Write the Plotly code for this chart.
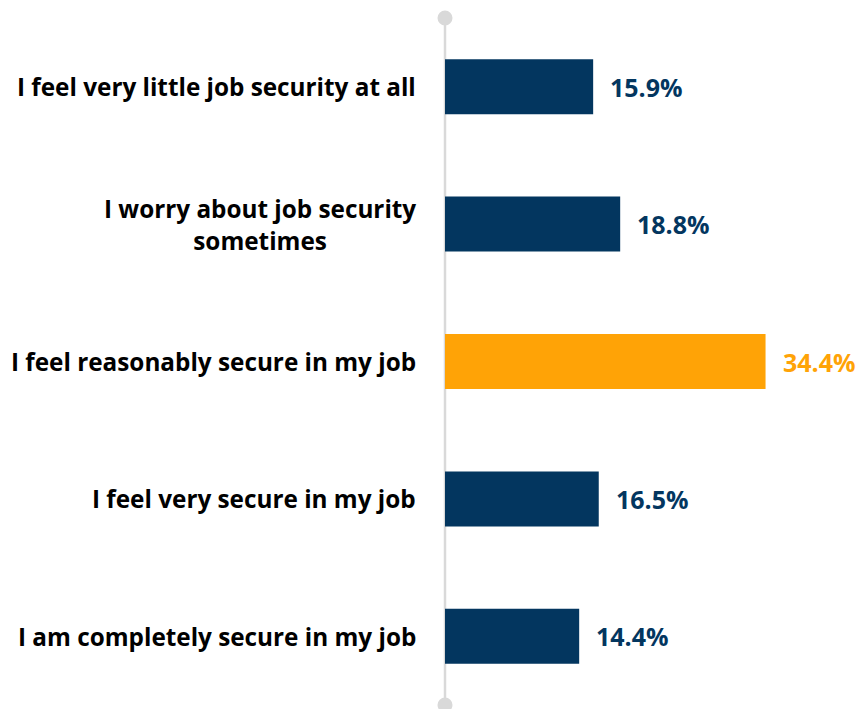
import plotly.graph_objects as go

categories = [
    "I feel very little job security at all",
    "I worry about job security<br>sometimes",
    "I feel reasonably secure in my job",
    "I feel very secure in my job",
    "I am completely secure in my job",
]
values = [15.9, 18.8, 34.4, 16.5, 14.4]
value_labels = ["15.9%", "18.8%", "34.4%", "16.5%", "14.4%"]
highlight = [False, False, True, False, False]

NAVY = "#03365F"
ORANGE = "#FFA306"
GREY = "#D9D9D9"
FONT = "Open Sans"

colors = [ORANGE if h else NAVY for h in highlight]

fig = go.Figure()
fig.add_trace(go.Bar(
    x=values,
    y=list(range(len(categories))),
    orientation="h",
    marker=dict(color=colors, line=dict(width=0)),
    width=0.4,
    hoverinfo="skip",
))

annotations = []
for i, (cat, v, lab, c) in enumerate(zip(categories, values, value_labels, colors)):
    annotations.append(dict(
        x=0, y=i, xref="x", yref="y", text=cat, showarrow=False,
        xanchor="right", yanchor="middle", align="center", xshift=-27,
        font=dict(family=FONT, size=24.3, color="#000000", weight="bold"),
    ))
    annotations.append(dict(
        x=v, y=i, xref="x", yref="y", text=lab, showarrow=False,
        xanchor="left", yanchor="middle", xshift=15,
        font=dict(family=FONT, size=25, color=c, weight="bold"),
    ))

shapes = [
    dict(type="line", xref="paper", yref="paper", x0=0, x1=0, y0=0, y1=1,
         line=dict(color=GREY, width=2.5), layer="below"),
    dict(type="circle", xref="paper", yref="paper", xsizemode="pixel", ysizemode="pixel",
         xanchor=0, yanchor=1, x0=-7.5, x1=7.5, y0=-7.5, y1=7.5,
         fillcolor=GREY, line=dict(width=0)),
    dict(type="circle", xref="paper", yref="paper", xsizemode="pixel", ysizemode="pixel",
         xanchor=0, yanchor=0, x0=-7.5, x1=7.5, y0=-7.5, y1=7.5,
         fillcolor=GREY, line=dict(width=0)),
]

fig.update_layout(
    width=858, height=709,
    margin=dict(l=445, r=3, t=18, b=4),
    paper_bgcolor="white", plot_bgcolor="white",
    showlegend=False,
    xaxis=dict(range=[0, 44], visible=False, fixedrange=True),
    yaxis=dict(range=[4.5, -0.5], visible=False, fixedrange=True),
    annotations=annotations,
    shapes=shapes,
    font=dict(family=FONT),
)

fig.write_html(
    "out.html",
    config={"displayModeBar": False},
    post_script="document.body.style.margin='0px';document.body.style.overflow='hidden';",
)
